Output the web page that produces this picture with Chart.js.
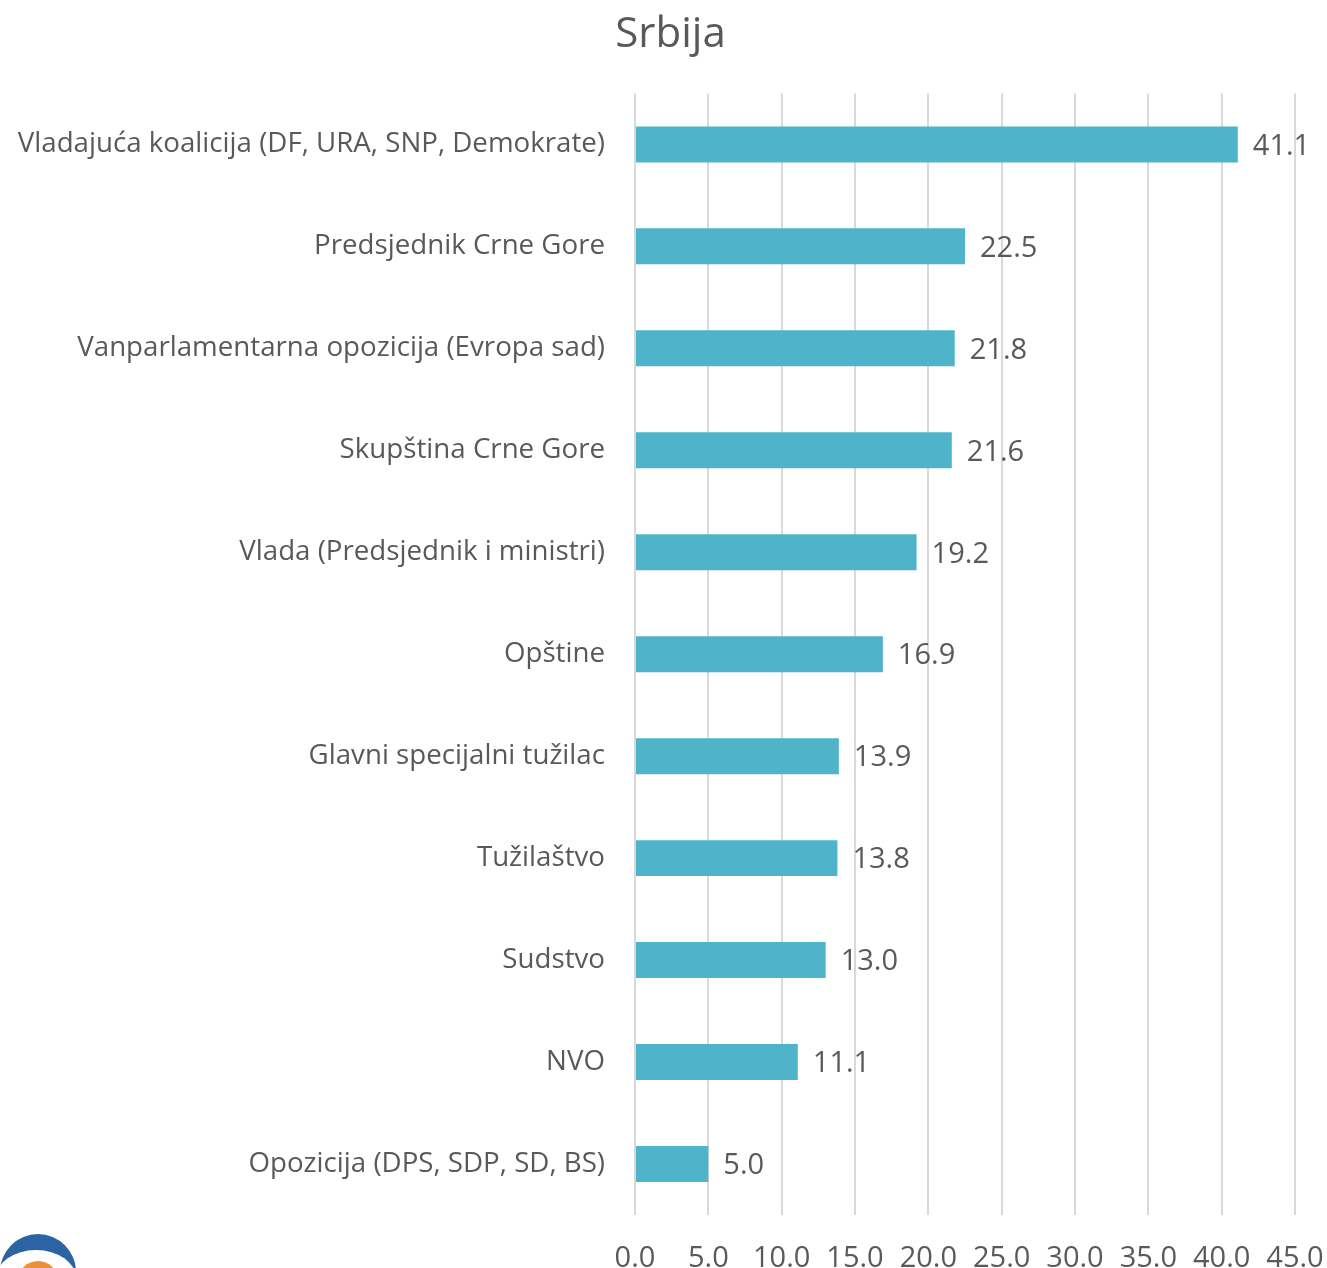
<!DOCTYPE html>
<html>
<head>
<meta charset="utf-8">
<title>Srbija</title>
<script src="https://cdn.jsdelivr.net/npm/chart.js@4.4.1/dist/chart.umd.min.js"></script>
<style>
  html, body { margin: 0; padding: 0; background: #ffffff; }
  #wrap { width: 1327px; height: 1268px; position: relative; }
</style>
</head>
<body>
<div id="wrap"><canvas id="chart" width="1327" height="1268"></canvas></div>
<script>
// Category labels, top to bottom as in the picture
const categories = [
  'Vladajuća koalicija (DF, URA, SNP, Demokrate)',
  'Predsjednik Crne Gore',
  'Vanparlamentarna opozicija (Evropa sad)',
  'Skupština Crne Gore',
  'Vlada (Predsjednik i ministri)',
  'Opštine',
  'Glavni specijalni tužilac',
  'Tužilaštvo',
  'Sudstvo',
  'NVO',
  'Opozicija (DPS, SDP, SD, BS)'
];
const values = [41.1, 22.5, 21.8, 21.6, 19.2, 16.9, 13.9, 13.8, 13.0, 11.1, 5.0];
const xTicks = [0, 5, 10, 15, 20, 25, 30, 35, 40, 45];

const FONT = "'Open Sans', 'Noto Sans', sans-serif";
const TEXT = '#595959';
const GRID = '#d9d9d9';
const BAR = '#4fb4c9';

// value labels at the end of each bar
const valueLabels = {
  id: 'valueLabels',
  afterDatasetsDraw(chart) {
    const { ctx } = chart;
    const meta = chart.getDatasetMeta(0);
    ctx.save();
    ctx.font = `29px ${FONT}`;
    ctx.fillStyle = TEXT;
    ctx.textAlign = 'left';
    ctx.textBaseline = 'middle';
    meta.data.forEach((bar, i) => {
      ctx.fillText(values[i].toFixed(1), bar.x + 15, bar.y + 2);
    });
    ctx.restore();
  }
};

// partial logo peeking in at the bottom left corner
const cornerLogo = {
  id: 'cornerLogo',
  afterDraw(chart) {
    const { ctx } = chart;
    ctx.save();
    ctx.fillStyle = '#2c64a3';
    ctx.beginPath();
    ctx.arc(38, 1272, 38, Math.PI, 2 * Math.PI);
    ctx.fill();
    ctx.fillStyle = '#ffffff';
    ctx.beginPath();
    ctx.ellipse(36, 1278, 40, 28, 0, 0, 2 * Math.PI);
    ctx.fill();
    ctx.fillStyle = '#ea8f3c';
    ctx.beginPath();
    ctx.arc(38, 1281, 20, 0, 2 * Math.PI);
    ctx.fill();
    ctx.restore();
  }
};

new Chart(document.getElementById('chart').getContext('2d'), {
  type: 'bar',
  data: {
    labels: categories,
    datasets: [{
      data: values,
      backgroundColor: BAR,
      borderWidth: 0,
      categoryPercentage: 1,
      barPercentage: 0.353
    }]
  },
  options: {
    indexAxis: 'y',
    responsive: false,
    animation: false,
    layout: { padding: { top: 0, right: 0, bottom: 0, left: 14 } },
    plugins: {
      legend: { display: false },
      tooltip: { enabled: false },
      title: {
        display: true,
        text: 'Srbija',
        color: TEXT,
        font: { family: FONT, size: 42, weight: 'normal' },
        padding: { top: 10, bottom: 33 }
      }
    },
    scales: {
      x: {
        min: 0,
        max: 45,
        afterBuildTicks: s => { s.ticks = xTicks.map(v => ({ value: v })); },
        afterFit: s => { s.height = 53; s.paddingLeft = 0; s.paddingRight = 32; },
        border: { display: false },
        grid: { color: GRID, lineWidth: 2, drawTicks: false },
        ticks: {
          color: TEXT,
          padding: 26,
          font: { family: FONT, size: 29 },
          callback: v => Number(v).toFixed(1)
        }
      },
      y: {
        afterFit: s => { s.width = 621; },
        border: { display: false },
        grid: { display: false, drawTicks: false },
        ticks: {
          color: TEXT,
          padding: 30,
          font: { family: FONT, size: 27.7 }
        }
      }
    }
  },
  plugins: [valueLabels, cornerLogo]
});
</script>
</body>
</html>
